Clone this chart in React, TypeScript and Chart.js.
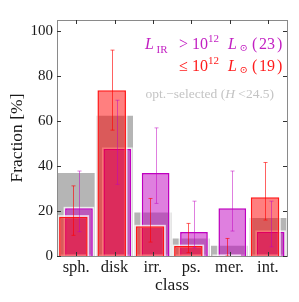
import React, { useEffect, useRef } from "react";
import { Chart, registerables } from "chart.js";

Chart.register(...registerables);

const categories = ["sph.", "disk", "irr.", "ps.", "mer.", "int."];
const optSelected = [37.2, 62.7, 19.7, 8.1, 4.9, 17.2];
const highLIR = [21.2, 47.6, 36.9, 10.7, 21.2, 10.7];
const highLo = [10.8, 31.9, 23.4, 3.7, 11.1, 4.1];
const highHi = [37.8, 69.3, 57.0, 24.4, 37.8, 24.4];
const lowLIR = [17.5, 73.8, 13.2, 4.4, 0, 26.1];
const lowLo = [9.2, 56.0, 6.2, 1.5, 0, 16.0];
const lowHi = [31.2, 91.6, 25.6, 14.5, 7.8, 41.6];
const yTicks = [0, 20, 40, 60, 80, 100];

const FONT = "'Liberation Serif', 'DejaVu Serif', serif";
const MAGENTA = "#bf00bf";

const errorSets: Record<string, { lo: number[]; hi: number[]; color: string }> = {
  low: { lo: lowLo, hi: lowHi, color: "rgba(255,0,0,0.62)" },
  high: { lo: highLo, hi: highHi, color: "rgba(191,0,191,0.5)" },
};

type Seg = { t: string; size: number; x: number; italic?: boolean; dy?: number };

function drawSegs(ctx: CanvasRenderingContext2D, segs: Seg[], yBase: number, color: string) {
  ctx.fillStyle = color;
  ctx.textBaseline = "alphabetic";
  ctx.textAlign = "left";
  segs.forEach((s) => {
    ctx.font = `${s.italic ? "italic " : ""}${s.size}px ${FONT}`;
    ctx.fillText(s.t, s.x, yBase + (s.dy || 0));
  });
}

const decor = {
  id: "decor",
  beforeDatasetDraw(chart: any, args: any) {
    const ds = chart.data.datasets[args.index];
    if (!ds.outline) return;
    const { ctx, chartArea } = chart;
    ctx.save();
    ctx.beginPath();
    ctx.rect(chartArea.left, chartArea.top, chartArea.right - chartArea.left, chartArea.bottom - chartArea.top);
    ctx.clip();
    ctx.strokeStyle = "rgba(255,255,255,0.75)";
    ctx.lineWidth = 3;
    args.meta.data.forEach((bar: any) => {
      const { x, y, base, width } = bar.getProps(["x", "y", "base", "width"], true);
      ctx.strokeRect(x - width / 2, Math.min(y, base), width, Math.abs(base - y));
    });
    ctx.restore();
  },
  afterDatasetsDraw(chart: any) {
    const { ctx, chartArea, scales } = chart;
    const yScale = scales.y;
    ctx.save();
    chart.data.datasets.forEach((ds: any, di: number) => {
      const err = errorSets[ds.key];
      if (!err) return;
      const meta = chart.getDatasetMeta(di);
      ctx.strokeStyle = err.color;
      ctx.lineWidth = 1;
      meta.data.forEach((bar: any, i: number) => {
        const x = Math.round(bar.x) + 0.5;
        const yl = yScale.getPixelForValue(err.lo[i]);
        const yh = yScale.getPixelForValue(err.hi[i]);
        ctx.beginPath();
        ctx.moveTo(x, yl);
        ctx.lineTo(x, yh);
        ctx.moveTo(x - 2, yh);
        ctx.lineTo(x + 2, yh);
        ctx.moveTo(x - 2, yl);
        ctx.lineTo(x + 2, yl);
        ctx.stroke();
      });
    });
    const { left, right, top, bottom } = chartArea;
    ctx.strokeStyle = "#8a8a8a";
    ctx.lineWidth = 1;
    ctx.strokeRect(Math.round(left) + 0.5, Math.round(top) + 0.5, Math.round(right - left), Math.round(bottom - top));
    ctx.strokeStyle = "#333";
    ctx.beginPath();
    yTicks.forEach((v) => {
      const y = Math.round(yScale.getPixelForValue(v)) + 0.5;
      ctx.moveTo(left, y);
      ctx.lineTo(left + 4, y);
      ctx.moveTo(right, y);
      ctx.lineTo(right - 4, y);
    });
    const xScale = scales.x;
    categories.forEach((_, i) => {
      const x = Math.round(xScale.getPixelForTick(i)) + 0.5;
      ctx.moveTo(x, bottom);
      ctx.lineTo(x, bottom - 4);
      ctx.moveTo(x, top);
      ctx.lineTo(x, top + 4);
    });
    ctx.stroke();
    ctx.restore();
  },
  afterDraw(chart: any) {
    const ctx = chart.ctx;
    ctx.save();
    drawSegs(
      ctx,
      [
        { t: "L", size: 16, italic: true, x: 145 },
        { t: "IR", size: 11, dy: 4, x: 156.5 },
        { t: ">", size: 16, x: 179 },
        { t: "10", size: 16, x: 192 },
        { t: "12", size: 11, dy: -7, x: 208 },
        { t: "L", size: 16, italic: true, x: 228 },
        { t: "⊙", size: 10, dy: 2, x: 239.5 },
        { t: "(", size: 16, x: 252 },
        { t: "23", size: 16, x: 259 },
        { t: ")", size: 16, x: 277 },
      ],
      49,
      "#c21fc2"
    );
    drawSegs(
      ctx,
      [
        { t: "≤", size: 16, x: 179 },
        { t: "10", size: 16, x: 192 },
        { t: "12", size: 11, dy: -7, x: 208 },
        { t: "L", size: 16, italic: true, x: 228 },
        { t: "⊙", size: 10, dy: 2, x: 239.5 },
        { t: "(", size: 16, x: 252 },
        { t: "19", size: 16, x: 259 },
        { t: ")", size: 16, x: 277 },
      ],
      71,
      "#ff1a1a"
    );
    const parts = [
      { t: "opt.−selected (", italic: false },
      { t: "H", italic: true },
      { t: " <24.5)", italic: false },
    ];
    const size = 13.5;
    let total = 0;
    const ws = parts.map((p) => {
      ctx.font = `${p.italic ? "italic " : ""}${size}px ${FONT}`;
      const w = ctx.measureText(p.t).width;
      total += w;
      return w;
    });
    let x = 274 - total;
    ctx.fillStyle = "#c4c4c4";
    ctx.textBaseline = "alphabetic";
    ctx.textAlign = "left";
    parts.forEach((p, i) => {
      ctx.font = `${p.italic ? "italic " : ""}${size}px ${FONT}`;
      ctx.fillText(p.t, x, 98);
      x += ws[i];
    });
    ctx.restore();
  },
};

export default function App() {
  const ref = useRef<HTMLCanvasElement>(null);
  useEffect(() => {
    document.body.style.margin = "0";
    const canvas = ref.current!;
    const chart = new Chart(canvas, {
      type: "bar",
      data: {
        labels: categories,
        datasets: [
          {
            key: "low",
            outline: true,
            label: "≤ 10^12 L⊙ (19)",
            data: lowLIR,
            order: 0,
            backgroundColor: "rgba(255,0,0,0.5)",
            borderColor: "rgba(255,0,0,0.9)",
            borderWidth: 1.5,
            categoryPercentage: 0.292,
            barPercentage: 5.1,
          },
          {
            key: "high",
            outline: true,
            label: "L_IR > 10^12 L⊙ (23)",
            data: highLIR,
            order: 1,
            backgroundColor: "rgba(191,0,191,0.5)",
            borderColor: MAGENTA,
            borderWidth: 1.5,
            categoryPercentage: 0.292,
            barPercentage: 4.95,
          },
          {
            key: "opt",
            label: "opt.−selected (H<24.5)",
            data: optSelected,
            order: 2,
            grouped: false,
            backgroundColor: "rgba(128,128,128,0.58)",
            borderColor: "rgba(255,255,255,0.5)",
            borderWidth: 1,
            categoryPercentage: 1,
            barPercentage: 1,
          },
        ] as any,
      },
      options: {
        animation: false,
        responsive: false,
        devicePixelRatio: 1,
        layout: { padding: { top: 20, right: 12, left: 0, bottom: 0 } },
        plugins: { legend: { display: false }, tooltip: { enabled: false } },
        scales: {
          x: {
            type: "category",
            offset: true,
            grid: { display: false, drawTicks: false },
            border: { display: false },
            ticks: { font: { family: FONT, size: 16.5 }, color: "#1a1a1a", padding: 2, maxRotation: 0 },
            title: { display: true, text: "class", font: { family: FONT, size: 17.5 }, color: "#1a1a1a", padding: { top: 0, bottom: 6 } },
            afterFit: (s: any) => {
              s.height = 46;
            },
          },
          y: {
            min: 0,
            max: 105,
            afterBuildTicks: (s: any) => {
              s.ticks = yTicks.map((v) => ({ value: v }));
            },
            grid: { display: false, drawTicks: false },
            border: { display: false },
            ticks: { font: { family: FONT, size: 15 }, color: "#1a1a1a", padding: 4 },
            title: { display: true, text: "Fraction [%]", font: { family: FONT, size: 17.5 }, color: "#1a1a1a", padding: { top: 7, bottom: 0 } },
            afterFit: (s: any) => {
              s.width = 57;
            },
          },
        },
      },
      plugins: [decor],
    } as any);
    return () => chart.destroy();
  }, []);
  return (
    <div style={{ position: "absolute", left: 0, top: 0, width: 299, height: 302 }}>
      <canvas ref={ref} width={299} height={302} />
    </div>
  );
}
